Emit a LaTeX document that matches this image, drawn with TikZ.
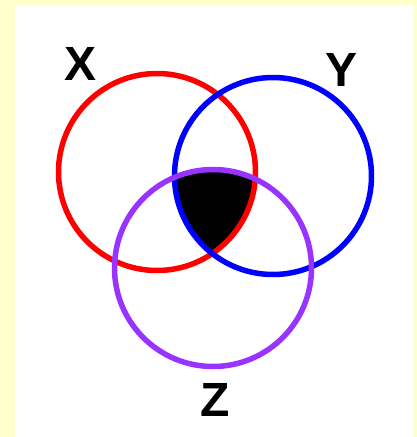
\documentclass[tikz,border=0pt]{standalone}
\usepackage{fontspec}
\setmainfont{Liberation Sans}
\definecolor{yellowbg}{HTML}{FFFFCC}
\definecolor{cred}{HTML}{FF0000}
\definecolor{cblue}{HTML}{0000FF}
\definecolor{cpurple}{HTML}{9933FF}
\begin{document}
\begin{tikzpicture}[x=1pt,y=-1pt,
  ring/.style={line width=5.5pt},
  lab/.style={font=\fontsize{48}{48}\selectfont\bfseries, inner sep=0pt, text=black}]
\fill[yellowbg] (0,0) rectangle (417,437);
\fill[white] (15,5) rectangle (414,437);
\useasboundingbox (0,0) rectangle (417,437);
\coordinate (cx) at (157,172);
\coordinate (cy) at (273,176);
\coordinate (cz) at (213,268);
\begin{scope}
  \clip (cx) circle[radius=98.5pt];
  \clip (cy) circle[radius=98.5pt];
  \fill[black] (cz) circle[radius=98.5pt];
\end{scope}
\draw[ring, cred] (cx) circle[radius=98.5pt];
\draw[ring, cblue] (cy) circle[radius=98.5pt];
\draw[ring, cpurple] (cz) circle[radius=98.5pt];
\node[lab] (X) at (81,64) {X};
\node[lab] (Y) at (342,70) {Y};
\node[lab] (Z) at (215,400) {Z};
\end{tikzpicture}
\end{document}
